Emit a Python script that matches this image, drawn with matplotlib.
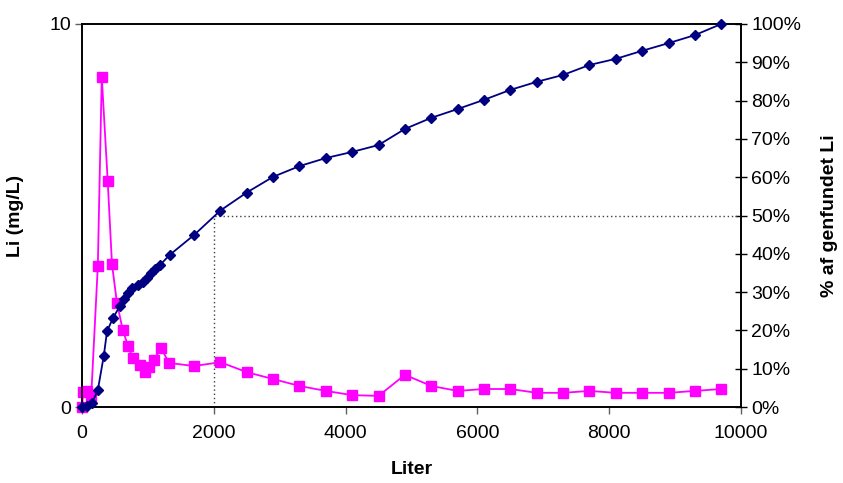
import matplotlib
matplotlib.use("Agg")
import matplotlib.pyplot as plt
from matplotlib.ticker import FuncFormatter

# Data
li_liter = [0, 20, 80, 140, 240, 300, 390, 455, 530, 620, 700, 770, 880, 950, 1020,
            1090, 1200, 1320, 1700, 2100, 2500, 2900, 3300, 3700, 4100, 4500, 4900,
            5300, 5700, 6100, 6500, 6900, 7300, 7700, 8100, 8500, 8900, 9300, 9700]
li_mgL = [0.0, 0.40, 0.42, 0.29, 3.68, 8.62, 5.90, 3.73, 2.72, 2.00, 1.59, 1.28, 1.10,
          0.91, 1.04, 1.23, 1.54, 1.15, 1.07, 1.17, 0.91, 0.73, 0.55, 0.42, 0.31, 0.29,
          0.84, 0.55, 0.42, 0.47, 0.47, 0.37, 0.37, 0.42, 0.37, 0.37, 0.37, 0.42, 0.47]

cum_liter = [0, 80, 150, 240, 330, 380, 470, 575, 635, 700, 760, 850, 925, 985, 1045,
             1105, 1180, 1330, 1700, 2100, 2500, 2900, 3300, 3700, 4100, 4500, 4900,
             5300, 5700, 6100, 6500, 6900, 7300, 7700, 8100, 8500, 8900, 9300, 9700]
cum_pct = [0.0, 0.3, 1.0, 4.4, 13.3, 19.8, 23.2, 26.4, 28.2, 29.8, 31.0, 31.9, 32.6,
           33.7, 35.0, 36.0, 37.0, 39.7, 44.9, 51.3, 56.0, 60.1, 62.9, 65.0, 66.6, 68.4,
           72.6, 75.5, 77.8, 80.2, 82.8, 84.9, 86.7, 89.3, 90.9, 93.0, 95.0, 97.1, 100.0]

ref_liter = [2000, 2000, 10000]
ref_pct = [0, 50, 50]

x_ticks = [0, 2000, 4000, 6000, 8000, 10000]
left_ticks = [0, 10]
right_ticks = list(range(0, 101, 10))

plt.rcParams['font.family'] = ['Liberation Sans', 'DejaVu Sans']

fig = plt.figure(figsize=(8.43, 4.83), dpi=100)
ax = fig.add_axes([82/843, 1-407/483, (741-82)/843, (407-24)/483])
ax2 = ax.twinx()

ax.plot(li_liter, li_mgL, color='#FF00FF', marker='s', markersize=6.5,
        linewidth=1.3, clip_on=False, zorder=3)
ax2.plot(ref_liter, ref_pct, color='#404040', linestyle=(0, (1, 2)), linewidth=1)
ax2.plot(cum_liter, cum_pct, color='#000080', marker='D', markersize=5.5,
         linewidth=1.3, clip_on=False, zorder=3)

ax.set_xlim(0, 10000)
ax.set_ylim(0, 10)
ax2.set_ylim(0, 100)
ax.set_xticks(x_ticks)
ax.set_yticks(left_ticks)
ax2.set_yticks(right_ticks)
ax2.yaxis.set_major_formatter(FuncFormatter(lambda v, p: f"{int(v)}%"))

fs = 14
ax.tick_params(axis='x', direction='out', length=5, width=1, color='#606060',
               labelsize=fs, pad=8)
ax.tick_params(axis='y', direction='out', length=5, width=1, color='#606060',
               labelsize=fs, pad=3)
ax2.tick_params(axis='y', direction='inout', length=9, width=1, color='black',
                labelsize=fs, pad=3)

for a in (ax, ax2):
    for s in a.spines.values():
        s.set_linewidth(1.2)
        s.set_color('black')

ax.set_xlabel('Liter', fontsize=fs, fontweight='bold', labelpad=14)
ax.set_ylabel('Li (mg/L)', fontsize=fs, fontweight='bold', labelpad=18)
ax2.set_ylabel('% af genfundet Li', fontsize=fs, fontweight='bold', labelpad=14)

fig.savefig('out.png', dpi=100)
